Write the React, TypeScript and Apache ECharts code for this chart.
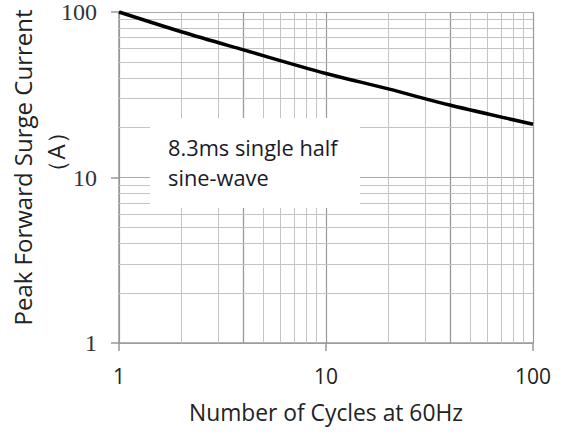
import React, { useEffect, useRef } from "react";
import * as echarts from "echarts";

const curve: [number, number][] = [
  [1, 100], [2, 76], [4, 59], [10, 42.5], [20, 34.3], [40, 27.3], [100, 21],
];
const xMajorTicks = [1, 10, 100];
const yMajorTicks = [1, 10, 100];
const xMinor = [2, 3, 4, 5, 6, 7, 8, 9, 20, 30, 40, 50, 60, 70, 80, 90];
const yMinor = [2, 3, 4, 5, 6, 7, 8, 9, 20, 30, 40, 50, 60, 70, 80, 90];
const xStrong = [4, 40];
const xTitle = "Number of Cycles at 60Hz";
const yTitle = "Peak Forward Surge Current\n     （A）";
const note = "8.3ms single half\nsine-wave";

export default function App() {
  const ref = useRef<HTMLDivElement>(null);
  useEffect(() => {
    if (!ref.current) return;
    const chart = echarts.init(ref.current, undefined, { renderer: "svg" });
    const sans = "Open Sans";
    chart.setOption({
      animation: false,
      backgroundColor: "#fff",
      grid: { left: 119, right: 28, top: 12, bottom: 98, outerBoundsMode: "none", containLabel: false },
      xAxis: {
        type: "log",
        logBase: 10,
        min: xMajorTicks[0],
        max: xMajorTicks[xMajorTicks.length - 1],
        name: xTitle,
        nameLocation: "middle",
        nameGap: 58,
        nameMoveOverlap: false,
        nameTextStyle: { fontFamily: sans, fontSize: 22.8, color: "#222" },
        axisLine: { show: true, lineStyle: { color: "#999", width: 1.5 } },
        axisTick: { show: true, length: 8, lineStyle: { color: "#999", width: 1.5 } },
        axisLabel: { margin: 22, fontFamily: sans, fontSize: 21, color: "#222" },
        splitLine: { show: true, lineStyle: { color: "#999", width: 1.2 } },
      },
      yAxis: {
        type: "log",
        logBase: 10,
        min: yMajorTicks[0],
        max: yMajorTicks[yMajorTicks.length - 1],
        name: yTitle,
        nameLocation: "middle",
        nameGap: 47,
        nameMoveOverlap: false,
        nameTextStyle: { fontFamily: sans, fontSize: 24, color: "#222", lineHeight: 33, padding: [0, 0, 0, 20] },
        axisLine: { show: true, lineStyle: { color: "#999", width: 1.5 } },
        axisTick: { show: true, length: 8, lineStyle: { color: "#999", width: 1.5 } },
        axisLabel: { margin: 22, fontFamily: "Liberation Serif", fontSize: 24, color: "#333" },
        splitLine: { show: true, lineStyle: { color: "#aaa", width: 1.2 } },
      },
      graphic: [
        { type: "rect", shape: { x: 150, y: 118, width: 210, height: 90 }, style: { fill: "#fff" }, z: 10 },
        {
          type: "text",
          x: 168,
          y: 132,
          z: 11,
          style: { text: note, font: `21.8px ${sans}`, fill: "#1a1a2a", lineHeight: 30 },
        },
      ],
      series: [
        {
          type: "line",
          z: 1,
          data: [],
          silent: true,
          markLine: {
            silent: true,
            symbol: "none",
            label: { show: false },
            lineStyle: { color: "#c4c4c4", width: 1, type: "solid" },
            data: [
              ...xMinor.map((v) => ({
                xAxis: v,
                lineStyle: { color: xStrong.includes(v) ? "#999" : "#c4c4c4", width: xStrong.includes(v) ? 1.3 : 1, type: "solid" },
              })),
              ...yMinor.map((v) => ({ yAxis: v })),
            ],
          },
        },
        {
          type: "line",
          z: 5,
          data: curve,
          smooth: 0.35,
          showSymbol: false,
          symbol: "none",
          lineStyle: { color: "#000", width: 3.5 },
        },
      ],
    });
    return () => chart.dispose();
  }, []);
  return (
    <div
      ref={ref}
      style={{ position: "fixed", left: 0, top: 0, width: 561, height: 441 }}
    />
  );
}
